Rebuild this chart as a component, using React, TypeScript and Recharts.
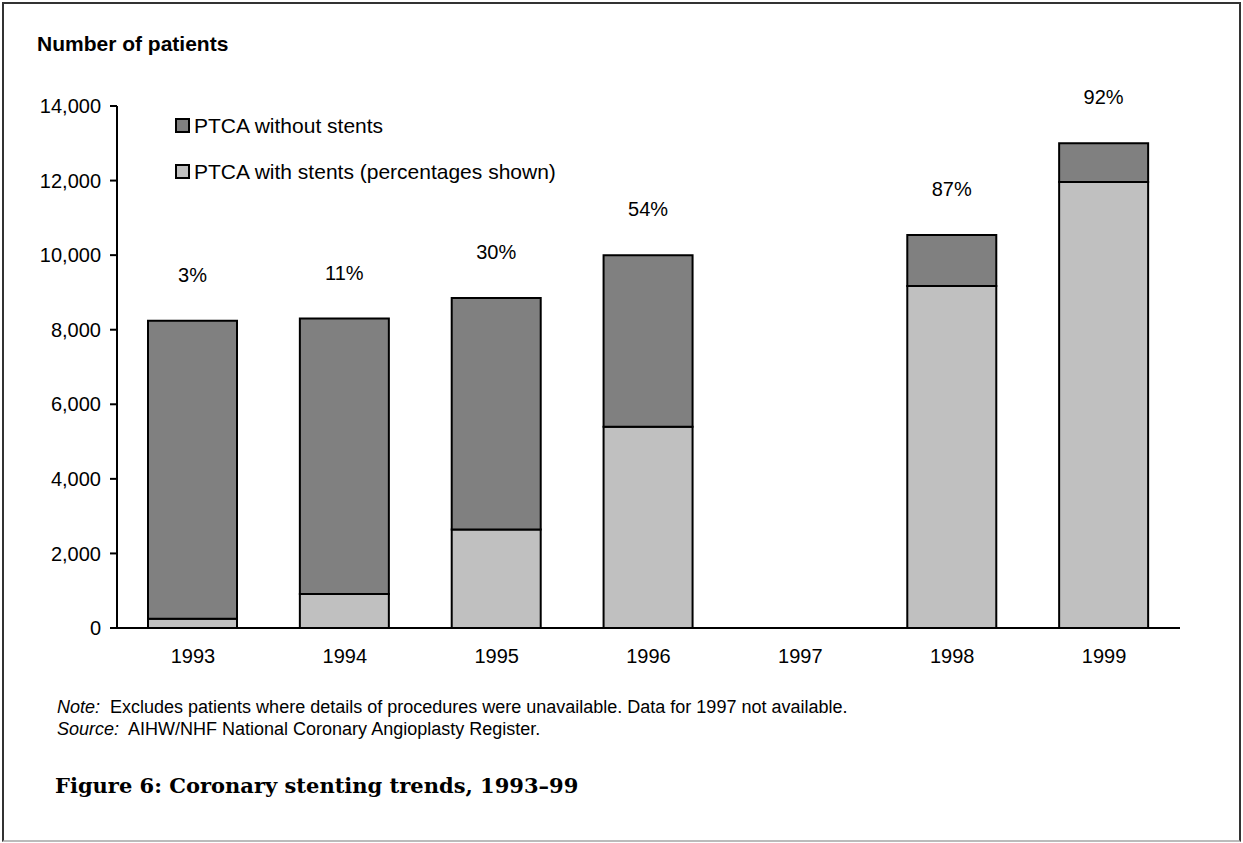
import { BarChart, Bar, XAxis, YAxis, LabelList } from 'recharts';

const YEARS = ['1993', '1994', '1995', '1996', '1997', '1998', '1999'];
// patients per year; no data collected for 1997
const WITH_STENTS = [250, 910, 2640, 5400, null, 9170, 11960];
const WITHOUT_STENTS = [7990, 7390, 6210, 4600, null, 1370, 1040];
const Y_TICKS = [0, 2000, 4000, 6000, 8000, 10000, 12000, 14000];

const SERIES = [
  { key: 'without', name: 'PTCA without stents', color: '#808080' },
  { key: 'with', name: 'PTCA with stents (percentages shown)', color: '#c0c0c0' },
];

const SANS = "'Liberation Sans', Arial, Helvetica, sans-serif";
const SERIF = "'DejaVu Serif', 'Book Antiqua', Palatino, serif";

const data = YEARS.map((year, i) => {
  const w = WITH_STENTS[i];
  const wo = WITHOUT_STENTS[i];
  return {
    year,
    with: w,
    without: wo,
    pct: w == null || wo == null ? null : Math.round((w / (w + wo)) * 100),
  };
});

const tickStyle = { fill: '#000', fontSize: 20, fontFamily: SANS };

function PctLabel(props: any) {
  const { x, y, width, value } = props;
  if (value == null) return null;
  return (
    <text x={x + width / 2} y={y - 39} textAnchor="middle" fill="#000" fontSize={20} fontFamily={SANS}>
      {value}%
    </text>
  );
}

export default function App() {
  return (
    <div style={{ position: 'absolute', left: 0, top: 0, width: 1243, height: 843, background: '#fff', fontFamily: SANS }}>
      <div
        style={{
          position: 'absolute', left: 2, top: 2, width: 1239, height: 840, boxSizing: 'border-box',
          borderTop: '2px solid #333', borderLeft: '2px solid #333', borderRight: '2px solid #333',
          borderBottom: '2px solid #bbb',
        }}
      />
      <div style={{ position: 'absolute', left: 37, top: 33, fontSize: 21, fontWeight: 700, lineHeight: 1 }}>
        Number of patients
      </div>

      <div style={{ position: 'absolute', left: 0, top: 0 }}>
        <BarChart width={1243} height={700} data={data} margin={{ top: 106, right: 63, bottom: 42, left: 57 }}>
          <XAxis
            dataKey="year"
            axisLine={{ stroke: '#000', strokeWidth: 2 }}
            tickLine={false}
            tickSize={0}
            tickMargin={21}
            tick={tickStyle}
          />
          <YAxis
            width={60}
            domain={[0, 14000]}
            ticks={Y_TICKS}
            interval={0}
            tickFormatter={(v: number) => v.toLocaleString('en-US')}
            axisLine={{ stroke: '#000', strokeWidth: 2 }}
            tickLine={{ stroke: '#000', strokeWidth: 2 }}
            tickSize={7}
            tickMargin={9}
            tick={tickStyle}
          />
          <Bar dataKey="with" stackId="a" fill="#c0c0c0" stroke="#000" strokeWidth={2} barSize={89} isAnimationActive={false} />
          <Bar dataKey="without" stackId="a" fill="#808080" stroke="#000" strokeWidth={2} barSize={89} isAnimationActive={false}>
            <LabelList dataKey="pct" content={PctLabel} />
          </Bar>
        </BarChart>
      </div>

      {/* legend, dark series listed first */}
      <div style={{ position: 'absolute', left: 175, top: 113 }}>
        {SERIES.map((s, i) => (
          <div key={s.key} style={{ position: 'absolute', left: 0, top: i * 46, display: 'flex', alignItems: 'center', whiteSpace: 'nowrap', height: 24 }}>
            <span style={{ width: 11, height: 11, background: s.color, border: '2px solid #000', marginRight: 4 }} />
            <span style={{ fontSize: 21, lineHeight: 1 }}>{s.name}</span>
          </div>
        ))}
      </div>

      <div style={{ position: 'absolute', left: 57, top: 696, fontSize: 18, lineHeight: '22px', whiteSpace: 'nowrap' }}>
        <div><i>Note:</i>&nbsp; Excludes patients where details of procedures were unavailable. Data for 1997 not available.</div>
        <div><i>Source:</i>&nbsp; AIHW/NHF National Coronary Angioplasty Register.</div>
      </div>

      <div style={{ position: 'absolute', left: 55, top: 775, fontFamily: SERIF, fontSize: 21, fontWeight: 700, lineHeight: 1, whiteSpace: 'nowrap' }}>
        Figure 6: Coronary stenting trends, 1993–99
      </div>
    </div>
  );
}
